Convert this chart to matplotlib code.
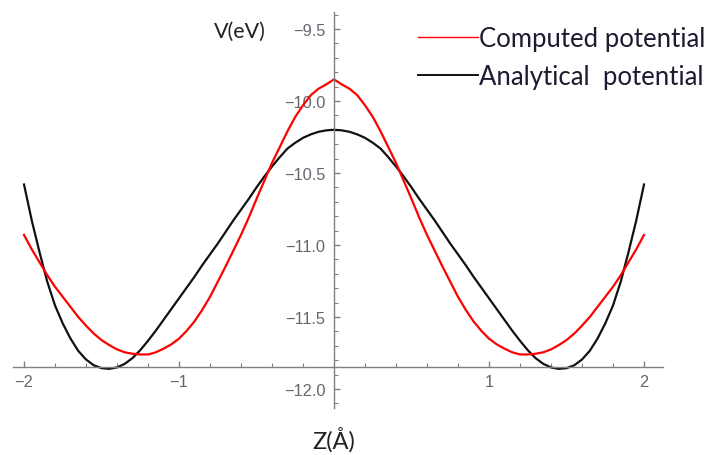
import matplotlib
matplotlib.use("Agg")
import matplotlib.pyplot as plt
from matplotlib.lines import Line2D
from matplotlib.ticker import FixedLocator, FuncFormatter

# ---- data ----
z_vals = [-2.00, -1.95, -1.90, -1.85, -1.80, -1.75, -1.70, -1.65, -1.60, -1.55,
          -1.50, -1.45, -1.40, -1.35, -1.30, -1.25, -1.20, -1.15, -1.10, -1.05,
          -1.00, -0.95, -0.90, -0.85, -0.80, -0.75, -0.70, -0.65, -0.60, -0.55,
          -0.50, -0.45, -0.40, -0.35, -0.30, -0.25, -0.20, -0.15, -0.10, -0.05,
          0.00,
          0.05, 0.10, 0.15, 0.20, 0.25, 0.30, 0.35, 0.40, 0.45, 0.50,
          0.55, 0.60, 0.65, 0.70, 0.75, 0.80, 0.85, 0.90, 0.95, 1.00,
          1.05, 1.10, 1.15, 1.20, 1.25, 1.30, 1.35, 1.40, 1.45, 1.50,
          1.55, 1.60, 1.65, 1.70, 1.75, 1.80, 1.85, 1.90, 1.95, 2.00]

computed = [-10.93, -11.03, -11.12, -11.21, -11.29, -11.36, -11.43, -11.50, -11.56, -11.615,
            -11.66, -11.695, -11.725, -11.745, -11.755, -11.76, -11.76, -11.745, -11.72, -11.69,
            -11.65, -11.595, -11.53, -11.45, -11.36, -11.255, -11.15, -11.04, -10.93, -10.81,
            -10.68, -10.555, -10.43, -10.32, -10.21, -10.11, -10.03, -9.96, -9.915, -9.885,
            -9.85,
            -9.885, -9.915, -9.96, -10.03, -10.11, -10.21, -10.32, -10.43, -10.555, -10.68,
            -10.81, -10.93, -11.04, -11.15, -11.255, -11.36, -11.45, -11.53, -11.595, -11.65,
            -11.69, -11.72, -11.745, -11.76, -11.76, -11.755, -11.745, -11.725, -11.695, -11.66,
            -11.615, -11.56, -11.50, -11.43, -11.36, -11.29, -11.21, -11.12, -11.03, -10.93]

analytical = [-10.58, -10.83, -11.05, -11.255, -11.42, -11.545, -11.65, -11.735, -11.795, -11.835,
              -11.855, -11.86, -11.85, -11.825, -11.785, -11.73, -11.665, -11.595, -11.52, -11.445,
              -11.37, -11.295, -11.22, -11.14, -11.065, -10.99, -10.91, -10.83, -10.755, -10.68,
              -10.60, -10.525, -10.455, -10.39, -10.33, -10.29, -10.256, -10.232, -10.214, -10.204,
              -10.20,
              -10.204, -10.214, -10.232, -10.256, -10.29, -10.33, -10.39, -10.455, -10.525, -10.60,
              -10.68, -10.755, -10.83, -10.91, -10.99, -11.065, -11.14, -11.22, -11.295, -11.37,
              -11.445, -11.52, -11.595, -11.665, -11.73, -11.785, -11.825, -11.85, -11.86, -11.855,
              -11.835, -11.795, -11.735, -11.65, -11.545, -11.42, -11.255, -11.05, -10.83, -10.58]

x_major_ticks = [-2, -1, 1, 2]
x_minor_ticks = [-1.8, -1.6, -1.4, -1.2, -0.8, -0.6, -0.4, -0.2,
                 0.2, 0.4, 0.6, 0.8, 1.2, 1.4, 1.6, 1.8]
y_major_ticks = [-12.0, -11.5, -11.0, -10.5, -10.0, -9.5]
y_minor_ticks = [-12.1, -11.9, -11.8, -11.7, -11.6, -11.4, -11.3, -11.2, -11.1,
                 -10.9, -10.8, -10.7, -10.6, -10.4, -10.3, -10.2, -10.1,
                 -9.9, -9.8, -9.7, -9.6, -9.4]
legend_labels = ["Computed potential", "Analytical  potential"]
x_label = "Z(Å)"
y_label = "V(eV)"

# ---- figure ----
fig = plt.figure(figsize=(7.08, 4.56), dpi=100)
ax = fig.add_axes([0, 0, 1, 1])
ax.patch.set_alpha(0)
ax.set_xlim(-2.155, 2.413)
ax.set_ylim(-12.458, -9.292)

axis_col = "#808080"
label_col = "#666670"

ax.plot(z_vals, analytical, color="#111111", lw=1.6, solid_joinstyle="round")
ax.plot(z_vals, computed, color="#ff0000", lw=1.6, solid_joinstyle="round")

for s in ["top", "right"]:
    ax.spines[s].set_visible(False)
ax.spines["left"].set_position(("data", 0.0))
ax.spines["bottom"].set_position(("data", -11.85))
ax.spines["left"].set_bounds(-12.13, -9.38)
ax.spines["bottom"].set_bounds(-2.07, 2.12)
for s in ["left", "bottom"]:
    ax.spines[s].set_color(axis_col)
    ax.spines[s].set_linewidth(1.0)

ax.xaxis.set_major_locator(FixedLocator(x_major_ticks))
ax.xaxis.set_minor_locator(FixedLocator(x_minor_ticks))
ax.yaxis.set_major_locator(FixedLocator(y_major_ticks))
ax.yaxis.set_minor_locator(FixedLocator(y_minor_ticks))

ax.xaxis.set_major_formatter(FuncFormatter(lambda v, p: f"{v:.0f}".replace("-", "\u2212")))
ax.yaxis.set_major_formatter(FuncFormatter(lambda v, p: f"{v:.1f}".replace("-", "\u2212")))

ax.tick_params(axis="both", which="both", direction="in", color=axis_col,
               labelcolor=label_col, labelsize=11.8)
ax.tick_params(axis="both", which="major", length=4.5, width=1.0)
ax.tick_params(axis="both", which="minor", length=3.0, width=0.8)
ax.tick_params(axis="x", which="major", pad=5)
ax.tick_params(axis="y", which="major", pad=6)
for t in ax.get_xticklabels() + ax.get_yticklabels():
    t.set_family("Liberation Sans")

# axis labels
ax.text(-0.606, -9.51, y_label, fontsize=15.5, color="#222222", family="Lato",
        ha="center", va="center")
ax.text(0.0, -12.347, x_label, fontsize=17, color="#222222", family="Lato",
        ha="center", va="center")

# legend
handles = [Line2D([], [], color="#ff0000", lw=1.0),
           Line2D([], [], color="#111111", lw=1.4)]
leg = ax.legend(handles, legend_labels, loc="upper left",
                bbox_to_anchor=(418 / 708, 1 - 27 / 456), frameon=False,
                handlelength=2.35, handletextpad=0.02, labelspacing=0.5,
                borderaxespad=0, borderpad=0,
                prop={"family": "Lato", "size": 18.5})
for t in leg.get_texts():
    t.set_color("#1c1c30")

fig.savefig("out.png", dpi=100)
